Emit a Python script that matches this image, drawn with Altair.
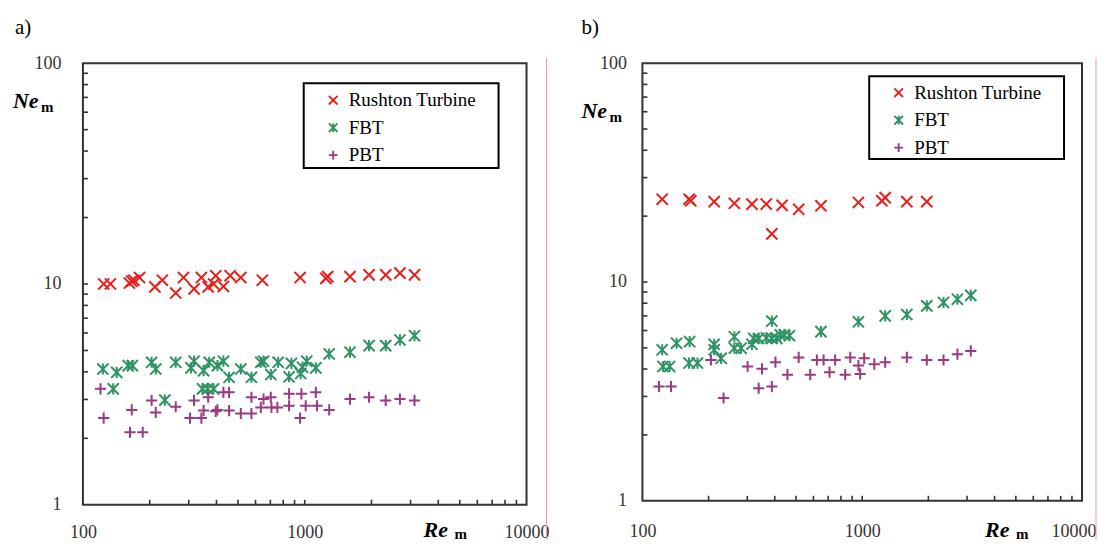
import altair as alt
import pandas as pd

FONT = "Liberation Serif"
SERIES = ["Rushton Turbine", "FBT", "PBT"]
COLORS = ["#e8201c", "#2f9363", "#9a3a80"]
SHAPES = [
    "M-1,-1L1,1M-1,1L1,-1",
    "M-1,-1L1,1M-1,1L1,-1M0,-1L0,1",
    "M-1,0L1,0M0,-1L0,1",
]

# ---- panel a) ----
a_rt_re = [124, 133, 162, 166, 170, 180, 211, 228, 262, 284, 317, 342, 367, 388, 397,
           430, 461, 515, 644, 953, 1245, 1270, 1600, 1950, 2318, 2687, 3126]
a_rt_ne = [10.0, 10.0, 10.1, 10.3, 10.4, 10.7, 9.7, 10.4, 9.1, 10.7, 9.5, 10.7, 9.7, 10.0, 10.9,
           9.75, 10.9, 10.7, 10.4, 10.7, 10.6, 10.8, 10.8, 11.0, 11.0, 11.2, 11.0]
a_fbt_re = [123, 142, 160, 167, 204, 213, 262, 307, 317, 350, 371, 404, 430, 456, 515,
            575, 634, 652, 703, 759, 850, 871, 959, 977, 1021, 1122, 1289, 1600, 1950, 2318,
            2687, 3126, 137, 234, 346, 365, 388]
a_fbt_ne = [4.12, 3.98, 4.27, 4.27, 4.42, 4.12, 4.42, 4.17, 4.47, 4.05, 4.42, 4.27, 4.47, 3.78, 4.12,
            3.78, 4.42, 4.47, 3.89, 4.42, 3.80, 4.37, 3.93, 4.20, 4.47, 4.17, 4.82, 4.91, 5.26, 5.26,
            5.58, 5.83, 3.35, 2.98, 3.35, 3.35, 3.35]
a_pbt_re = [120, 124, 163, 166, 186, 204, 213, 262, 304, 317, 342, 350, 367, 397, 404,
            430, 456, 456, 515, 575, 575, 634, 652, 703, 708, 753, 850, 850, 953, 966,
            1010, 1122, 1136, 1289, 1600, 1950, 2318, 2687, 3126]
a_pbt_ne = [3.35, 2.47, 2.13, 2.69, 2.13, 2.97, 2.62, 2.78, 2.47, 2.97, 2.47, 2.67, 3.07, 2.65, 2.69,
            3.23, 3.23, 2.67, 2.59, 2.59, 3.07, 2.76, 3.01, 3.07, 2.76, 2.76, 3.18, 2.81, 2.47, 3.18,
            2.81, 3.23, 2.81, 2.69, 3.01, 3.07, 2.97, 3.01, 2.97]

# ---- panel b) ----
b_rt_re = [123, 163, 166, 212, 262, 315, 366, 432, 514, 649, 961, 1228, 1272, 1596, 1967, 388]
b_rt_ne = [23.9, 23.9, 23.5, 23.3, 22.9, 22.7, 22.7, 22.4, 21.5, 22.3, 23.1, 23.5, 24.3, 23.3, 23.3, 16.6]
b_fbt_re = [123, 124, 133, 143, 164, 163, 178, 212, 212, 228, 262, 262, 281, 315, 321,
            338, 366, 388, 388, 409, 424, 442, 467, 649, 961, 1272, 1596, 1967, 2344, 2711, 3118]
b_fbt_ne = [4.90, 4.11, 4.11, 5.25, 5.34, 4.26, 4.26, 5.19, 4.90, 4.48, 5.62, 4.98, 4.98, 5.19, 5.52,
            5.52, 5.55, 6.63, 5.52, 5.52, 5.73, 5.73, 5.68, 5.93, 6.58, 7.0, 7.1, 7.78, 8.06, 8.34, 8.69]
b_pbt_re = [119, 135, 205, 234, 301, 350, 338, 388, 403, 457, 514, 580, 622, 667, 710,
            753, 837, 882, 961, 979, 1021, 1135, 1272, 1596, 1967, 2344, 2711, 3118]
b_pbt_ne = [3.33, 3.33, 4.40, 2.95, 4.11, 4.01, 3.27, 3.33, 4.30, 3.77, 4.52, 3.77, 4.40, 4.40, 3.87,
            4.40, 3.77, 4.52, 4.15, 3.80, 4.48, 4.21, 4.30, 4.52, 4.40, 4.40, 4.68, 4.84]

X_LABELS = [100, 1000, 10000]
Y_LABELS = [1, 10, 100]
X_MINOR = [200, 300, 400, 500, 600, 700, 800, 900, 1000, 2000, 3000, 4000, 5000, 6000, 7000, 8000, 9000]
Y_MINOR = [2, 3, 4, 5, 6, 7, 8, 9, 10, 20, 30, 40, 50, 60, 70, 80, 90]


def make_df(rt, fbt, pbt):
    rows = []
    for name, (res, nes) in zip(SERIES, [rt, fbt, pbt]):
        for r, n in zip(res, nes):
            rows.append({"Re": r, "Ne": n, "series": name})
    return pd.DataFrame(rows)


def x_enc(pad, squeeze_last):
    extra = {}
    if squeeze_last:
        extra = dict(
            labelAlign={"condition": {"test": "datum.value >= 10000", "value": "right"}, "value": "center"},
            labelOffset={"condition": {"test": "datum.value >= 10000", "value": 14}, "value": 0},
        )
    return alt.X("Re:Q",
                 scale=alt.Scale(type="log", domain=[100, 10000], nice=False),
                 axis=alt.Axis(values=X_LABELS, format="d", title=None, grid=False, ticks=False,
                               domain=False, labelPadding=pad, labelFont=FONT, labelFontSize=18,
                               labelColor="#333333", labelFlush=False, **extra))


def y_enc(pad):
    return alt.Y("Ne:Q",
                 scale=alt.Scale(type="log", domain=[1, 100], nice=False),
                 axis=alt.Axis(values=Y_LABELS, format="d", title=None, grid=False, ticks=False,
                               domain=False, labelPadding=pad, labelFont=FONT, labelFontSize=18,
                               labelColor="#333333"))


ONE = pd.DataFrame({"k": [0]})


def panel(df, w, h, tag, tag_x, ypad, xpad, squeeze, leg_x, leg_y, box, ne_xy, re_xy, red_x, red_y2):
    X_ENC = x_enc(xpad, squeeze)
    Y_ENC = y_enc(ypad)
    legend = alt.Legend(title=None, orient="none", legendX=leg_x, legendY=leg_y,
                        labelFont=FONT, labelFontSize=19, labelColor="black",
                        symbolSize=75, symbolStrokeWidth=1.9, rowPadding=7.5,
                        labelOffset=6, padding=0)
    pts = alt.Chart(df).mark_point(filled=False, strokeWidth=2, size=125, opacity=1).encode(
        x=X_ENC, y=Y_ENC,
        color=alt.Color("series:N", scale=alt.Scale(domain=SERIES, range=COLORS), legend=legend),
        shape=alt.Shape("series:N", scale=alt.Scale(domain=SERIES, range=SHAPES), legend=legend),
    )
    yt = alt.Chart(pd.DataFrame({"Ne": Y_MINOR})).mark_rule(color="#333333", strokeWidth=1.6).encode(
        y=Y_ENC, x=alt.value(0), x2=alt.value(5))
    xt = alt.Chart(pd.DataFrame({"Re": X_MINOR})).mark_rule(color="#333333", strokeWidth=1.6).encode(
        x=X_ENC, y=alt.value(h), y2=alt.value(h - 5))
    boxm = alt.Chart(ONE).mark_rect(filled=False, color="black", strokeWidth=2).encode(
        x=alt.value(box[0]), x2=alt.value(box[1]), y=alt.value(box[2]), y2=alt.value(box[3]))
    tagm = alt.Chart(ONE).mark_text(text=tag, font=FONT, fontSize=21, align="left",
                                    baseline="alphabetic", color="black").encode(
        x=alt.value(tag_x), y=alt.value(-29))
    ne1 = alt.Chart(ONE).mark_text(text="Ne", font=FONT, fontSize=22, fontStyle="italic",
                                   fontWeight="bold", align="left", baseline="alphabetic",
                                   color="black").encode(x=alt.value(ne_xy[0]), y=alt.value(ne_xy[1]))
    ne2 = alt.Chart(ONE).mark_text(text="m", font=FONT, fontSize=15, fontWeight="bold",
                                   align="left", baseline="alphabetic", color="black").encode(
        x=alt.value(ne_xy[0] + 28), y=alt.value(ne_xy[1] + 4))
    re1 = alt.Chart(ONE).mark_text(text="Re", font=FONT, fontSize=22, fontStyle="italic",
                                   fontWeight="bold", align="left", baseline="alphabetic",
                                   color="black").encode(x=alt.value(re_xy[0]), y=alt.value(re_xy[1]))
    re2 = alt.Chart(ONE).mark_text(text="m", font=FONT, fontSize=15, fontWeight="bold",
                                   align="left", baseline="alphabetic", color="black").encode(
        x=alt.value(re_xy[0] + 31), y=alt.value(re_xy[1] + 2))
    red = alt.Chart(ONE).mark_rule(color="#f29a9a", strokeWidth=1).encode(
        x=alt.value(red_x), y=alt.value(-5), y2=alt.value(red_y2))
    return alt.layer(xt, yt, boxm, pts, tagm, ne1, ne2, re1, re2, red).properties(width=w, height=h)


df_a = make_df((a_rt_re, a_rt_ne), (a_fbt_re, a_fbt_ne), (a_pbt_re, a_pbt_ne))
df_b = make_df((b_rt_re, b_rt_ne), (b_fbt_re, b_fbt_ne), (b_pbt_re, b_pbt_ne))

pa = panel(df_a, 444, 442, "a)", -68, 22, 19, False, 241, 27.5, (221, 416, 20, 105),
           (-70, 45), (341, 474), 464, 477)
pb = panel(df_b, 440, 438, "b)", -61, 16, 22, True, 247, 20, (227, 422, 13, 96),
           (-61, 55), (343, 474), 454, 477)

chart = alt.hconcat(pa, pb, spacing=116, bounds="flush").resolve_scale(
    color="independent", shape="independent"
).resolve_legend(color="independent", shape="independent").properties(
    padding={"left": 4, "top": 8, "right": 0, "bottom": 0}, background="white"
).configure_view(stroke="#333333", strokeWidth=2)

chart.save("out.html", embed_options={"renderer": "svg", "actions": False})
